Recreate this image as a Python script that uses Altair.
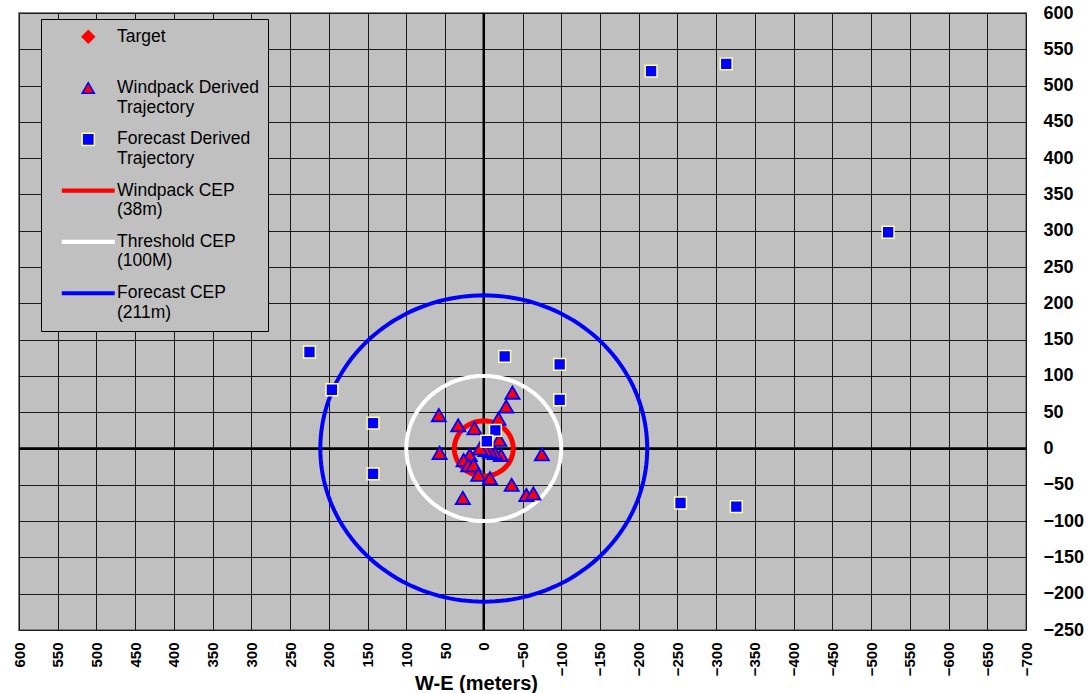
import altair as alt
import pandas as pd
import numpy as np

# ---------------- data ----------------
SERIES = [
    "Target",
    "Windpack Derived Trajectory",
    "Forecast Derived Trajectory",
    "Windpack CEP (38m)",
    "Threshold CEP (100M)",
    "Forecast CEP (211m)",
]
LEGEND_LINES = [
    ["Target", " "],
    ["Windpack Derived\u00a0\u00a0\u00a0", "Trajectory"],
    ["Forecast Derived", "Trajectory"],
    ["Windpack CEP", "(38m)"],
    ["Threshold CEP", "(100M)"],
    ["Forecast CEP", "(211m)"],
]

TARGET_X = [0]
TARGET_Y = [0]

WIND_X = [-37, -29, 58, 33, 12, -19, -20, 57, -75, -22, -14, -8, -2, 5, 18, 26, 20, 13, 7, -8, -36, -55, -64, 27]
WIND_Y = [77, 58, 46, 32, 28, 41, 12, -6, -8, -9, -6, -4, -2, 0, -9, -16, -23, -23, -36, -41, -50, -64, -62, -68]

FCST_X = [-216, -313, -522, 225, 196, 143, 143, -27, -98, -98, -15, -4, -254, -326]
FCST_Y = [520, 530, 298, 133, 81, 35, -35, 127, 116, 67, 25, 10, -75, -80]

CEP_NAMES = ["Windpack CEP (38m)", "Threshold CEP (100M)", "Forecast CEP (211m)"]
CEP_RADII = [38, 100, 211]

X_TICKS = list(range(-700, 601, 50))
Y_TICKS = list(range(-250, 601, 50))

# ---------------- styles ----------------
LINE_PATH = "M-4.2,-0.22H4.2V0.22H-4.2Z"
FILLS = ["#ff0000", "#ff0000", "#0000ff", "#ff0000", "#ffffff", "#0000ff"]
STROKES = ["#ff0000", "#0000ff", "#ffff99", "#ff0000", "#ffffff", "#0000ff"]
SHAPES = ["diamond", "triangle-up", "square", LINE_PATH, LINE_PATH, LINE_PATH]
CEP_WIDTHS = [5, 4, 4]
FONT = "Liberation Sans"

# ---------------- tables ----------------
target_df = pd.DataFrame({"x": TARGET_X, "y": TARGET_Y, "series": SERIES[0]})
wind_df = pd.DataFrame({"x": WIND_X, "y": WIND_Y, "series": SERIES[1]})
fcst_df = pd.DataFrame({"x": FCST_X, "y": FCST_Y, "series": SERIES[2]})

theta = np.linspace(0, 2 * np.pi, 181)
rows = []
for name, r in zip(CEP_NAMES, CEP_RADII):
    for i, t in enumerate(theta):
        rows.append({"series": name, "i": i, "x": r * np.cos(t), "y": r * np.sin(t)})
cep_df = pd.DataFrame(rows)
zero_df = pd.DataFrame({"v": [0]})

# legend label expression (multi-line labels)
def arr(lines):
    return "[" + ",".join("'" + l + "'" for l in lines) + "]"

expr = "datum.label"
for name, lines in reversed(list(zip(SERIES, LEGEND_LINES))):
    expr = "datum.label == '" + name + "' ? " + arr(lines) + " : (" + expr + ")"

# ---------------- scales / axes ----------------
x_scale = alt.Scale(domain=[-700, 600], reverse=True, nice=False, zero=False)
y_scale = alt.Scale(domain=[-250, 600], nice=False, zero=False)

x_axis = alt.Axis(
    values=X_TICKS, grid=True, gridColor="#1a1a1a", gridWidth=1,
    domain=False, ticks=False, labelAngle=270, labelFont=FONT, labelFontSize=15,
    labelFontWeight="bold", labelColor="black", labelPadding=12,
    title="W-E (meters)", titleFont=FONT, titleFontSize=20, titleFontWeight="bold",
    titleColor="black", titleX=457, titleY=53, titleBaseline="middle", titleAlign="center",
)
y_axis = alt.Axis(
    values=Y_TICKS, grid=True, gridColor="#1a1a1a", gridWidth=1, orient="right",
    domain=False, ticks=False, labelFont=FONT, labelFontSize=18, labelFontWeight="bold",
    labelColor="black", labelAlign="left", labelPadding=17, title=None,
)

legend = alt.Legend(
    title=None, orient="none", legendX=22, legendY=6,
    fillColor="#c0c0c0", strokeColor="#000000", padding=9,
    labelFont=FONT, labelFontSize=17.5, labelColor="black", labelLimit=400,
    labelExpr=expr, labelBaseline="middle", labelOffset=20,
    symbolSize=150, symbolStrokeWidth=1.5, symbolOffset=29.5, rowPadding=13.3,
)

fill_scale = alt.Scale(domain=SERIES, range=FILLS)
stroke_scale = alt.Scale(domain=SERIES, range=STROKES)
shape_scale = alt.Scale(domain=SERIES, range=SHAPES)

X = alt.X("x:Q", scale=x_scale, axis=x_axis)
Y = alt.Y("y:Q", scale=y_scale, axis=y_axis)

def points(df, size, sw):
    return alt.Chart(df).mark_point(filled=True, size=size, strokeWidth=sw, opacity=1).encode(
        x=X, y=Y,
        fill=alt.Fill("series:N", scale=fill_scale, legend=legend),
        stroke=alt.Stroke("series:N", scale=stroke_scale, legend=legend),
        shape=alt.Shape("series:N", scale=shape_scale, legend=legend),
    )

vrule = alt.Chart(zero_df).mark_rule(color="black", strokeWidth=2.5).encode(x=alt.X("v:Q", scale=x_scale, axis=x_axis))
hrule = alt.Chart(zero_df).mark_rule(color="black", strokeWidth=2.5).encode(y=alt.Y("v:Q", scale=y_scale, axis=y_axis))

def cep(idx):
    name = CEP_NAMES[idx]
    color = STROKES[SERIES.index(name)]
    return alt.Chart(cep_df).transform_filter(
        alt.FieldEqualPredicate(field="series", equal=name)
    ).mark_line(color=color, strokeWidth=CEP_WIDTHS[idx]).encode(
        x=X, y=Y, order="i:Q",
    )

chart = alt.layer(
    vrule, hrule,
    cep(0), cep(1), cep(2),
    points(target_df, 150, 1.5),
    points(wind_df, 200, 1.8),
    points(fcst_df, 140, 1.5),
).properties(
    width=1007, height=617,
    padding={"left": 19, "top": 13, "right": 63, "bottom": 63},
    autosize=alt.AutoSizeParams(type="none"),
    background="white",
).configure_view(
    fill="#c0c0c0", stroke="#808080", strokeWidth=2,
)

chart.save("out.html", embed_options={"renderer": "svg", "actions": False})
